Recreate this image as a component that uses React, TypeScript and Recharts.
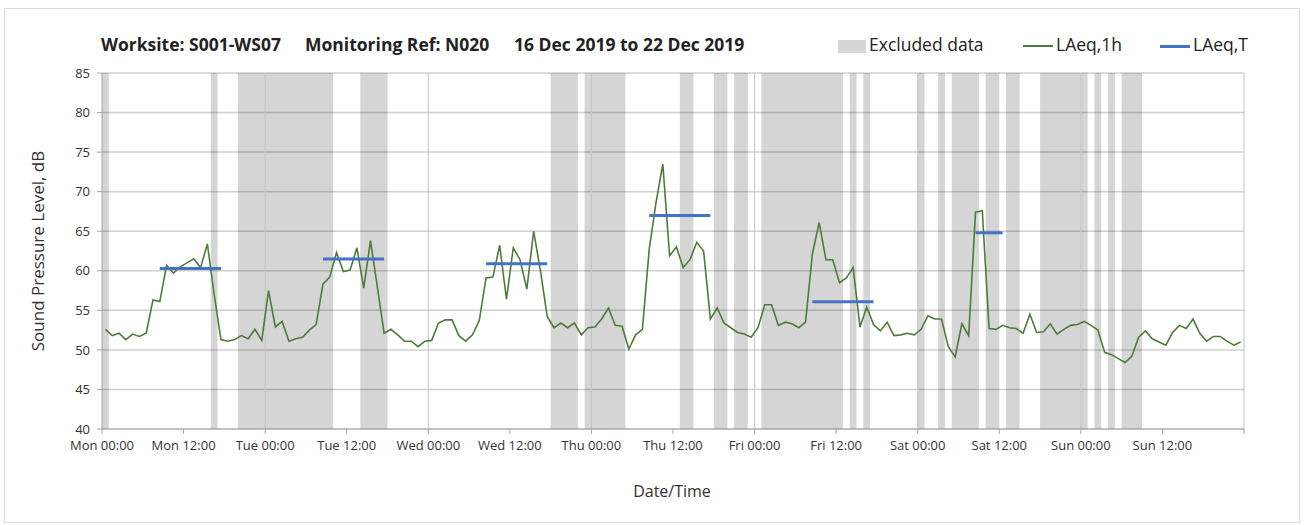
import { ComposedChart, Line, XAxis, YAxis, CartesianGrid, ReferenceArea, ReferenceLine } from 'recharts';

// hourly LAeq,1h values, Mon 00:00 .. Sun 23:00
const laeq1h = [
  52.6, 51.8, 52.1, 51.3, 52.0, 51.7, 52.1, 56.3, 56.1, 60.7, 59.7, 60.5, 61.0, 61.5, 60.4, 63.4, 57.0, 51.3, 51.1, 51.3, 51.8, 51.4, 52.6, 51.2,
  57.5, 52.9, 53.6, 51.1, 51.4, 51.6, 52.5, 53.2, 58.3, 59.2, 62.3, 59.9, 60.1, 62.9, 57.8, 63.8, 58.0, 52.1, 52.6, 51.9, 51.1, 51.1, 50.4, 51.1,
  51.2, 53.4, 53.8, 53.8, 51.8, 51.1, 51.9, 53.7, 59.1, 59.2, 63.2, 56.4, 62.9, 61.4, 57.7, 65.0, 60.0, 54.2, 52.8, 53.4, 52.8, 53.4, 51.9, 52.8,
  52.9, 53.9, 55.3, 53.1, 53.0, 50.1, 51.9, 52.6, 62.7, 68.6, 73.5, 61.9, 63.0, 60.4, 61.4, 63.6, 62.5, 53.9, 55.3, 53.4, 52.8, 52.2, 52.0, 51.6,
  52.8, 55.7, 55.7, 53.1, 53.5, 53.3, 52.8, 53.5, 62.1, 66.1, 61.4, 61.4, 58.5, 59.1, 60.4, 52.9, 55.4, 53.2, 52.4, 53.5, 51.8, 51.9, 52.1, 51.9,
  52.6, 54.3, 53.9, 53.9, 50.4, 49.1, 53.3, 51.8, 67.4, 67.6, 52.7, 52.6, 53.1, 52.8, 52.7, 52.1, 54.5, 52.2, 52.3, 53.3, 52.0, 52.6, 53.1, 53.2,
  53.6, 53.1, 52.5, 49.7, 49.4, 48.9, 48.4, 49.2, 51.6, 52.4, 51.4, 51.0, 50.6, 52.2, 53.1, 52.7, 53.9, 52.1, 51.1, 51.7, 51.7, 51.1, 50.6, 51.0,
];

// LAeq,T periods: [from hour, to hour, level]
const laeqT: [number, number, number][] = [
  [8.5, 17.5, 60.3],
  [32.5, 41.5, 61.5],
  [56.5, 65.5, 60.9],
  [80.5, 89.5, 67.0],
  [104.5, 113.5, 56.1],
  [128.5, 132.5, 64.8],
];

// excluded data periods [start hour, end hour]
const excluded: [number, number][] = [
  [0, 1], [16, 17], [20, 34], [38, 42], [66, 70], [71, 77], [85, 87], [90, 92], [93, 95],
  [97, 109], [110, 111], [112, 113], [120, 121], [123, 124], [125, 129], [130, 132], [133, 135],
  [138, 145], [146, 147], [148, 149], [150, 153],
];

const xTickLabels = [
  'Mon 00:00', 'Mon 12:00', 'Tue 00:00', 'Tue 12:00', 'Wed 00:00', 'Wed 12:00', 'Thu 00:00',
  'Thu 12:00', 'Fri 00:00', 'Fri 12:00', 'Sat 00:00', 'Sat 12:00', 'Sun 00:00', 'Sun 12:00', '',
];
const xTicks = xTickLabels.map((_, i) => i * 12);
const dayLines = [24, 48, 72, 96, 120, 144, 168];
const yTicks = [40, 45, 50, 55, 60, 65, 70, 75, 80, 85];

const data = laeq1h.map((v, i) => ({ t: i + 0.5, v }));

const FONT = '"Open Sans", sans-serif';
const GREEN = '#4F7B3A';
const BLUE = '#4472C4';

export default function App() {
  return (
    <div style={{ position: 'absolute', left: 0, top: 0, width: 1306, height: 525, background: '#fff', fontFamily: FONT, color: '#222' }}>
      <div style={{ position: 'absolute', left: 4, top: 8, width: 1294, height: 513, border: '1px solid #d9d9d9' }} />

      {/* title */}
      <div style={{ position: 'absolute', top: 32, left: 101, fontSize: 17.5, fontWeight: 700, whiteSpace: 'nowrap' }}>Worksite: S001-WS07</div>
      <div style={{ position: 'absolute', top: 32, left: 305, fontSize: 17.5, fontWeight: 700, whiteSpace: 'nowrap' }}>Monitoring Ref: N020</div>
      <div style={{ position: 'absolute', top: 32, left: 514, fontSize: 17.5, fontWeight: 700, whiteSpace: 'nowrap' }}>16 Dec 2019 to 22 Dec 2019</div>

      {/* legend */}
      <div style={{ position: 'absolute', left: 838, top: 40, width: 28, height: 13, background: '#d6d6d6' }} />
      <div style={{ position: 'absolute', left: 869, top: 32, fontSize: 17.5, whiteSpace: 'nowrap' }}>Excluded data</div>
      <div style={{ position: 'absolute', left: 1023, top: 45, width: 30, height: 2, background: GREEN }} />
      <div style={{ position: 'absolute', left: 1056, top: 32, fontSize: 17.5, whiteSpace: 'nowrap' }}>LAeq,1h</div>
      <div style={{ position: 'absolute', left: 1160, top: 44.5, width: 30, height: 3, background: BLUE }} />
      <div style={{ position: 'absolute', left: 1193, top: 32, fontSize: 17.5, whiteSpace: 'nowrap' }}>LAeq,T</div>

      {/* axis titles */}
      <div style={{ position: 'absolute', left: 37, top: 251, fontSize: 17, whiteSpace: 'nowrap', color: '#333', transform: 'translate(-50%, -50%) rotate(-90deg)' }}>
        Sound Pressure Level, dB
      </div>
      <div style={{ position: 'absolute', left: 672, top: 491, fontSize: 16, whiteSpace: 'nowrap', color: '#333', transform: 'translate(-50%, -50%)' }}>
        Date/Time
      </div>

      <div style={{ position: 'absolute', left: 0, top: 0 }}>
        <ComposedChart width={1306} height={525} data={data} margin={{ top: 73, right: 62, bottom: 66, left: 0 }}>
          <CartesianGrid vertical={false} stroke="#d0d0d0" strokeWidth={1.5} />
          {excluded.map(([a, b], i) => (
            <ReferenceArea key={`ex-${i}`} x1={a} x2={b} y1={40} y2={85} fill="#000" fillOpacity={0.165} stroke="none" ifOverflow="hidden" />
          ))}
          {dayLines.map((d) => (
            <ReferenceLine key={`d-${d}`} x={d} stroke="#c4c4c4" strokeWidth={1} />
          ))}
          <XAxis
            dataKey="t"
            type="number"
            domain={[0, 168]}
            ticks={xTicks}
            interval={0}
            tickFormatter={(v: number) => xTickLabels[v / 12]}
            stroke="#a6a6a6"
            tickSize={5}
            tickMargin={7}
            height={30}
            tick={{ fill: '#333', fontSize: 13, fontFamily: FONT }}
          />
          <YAxis
            type="number"
            domain={[40, 85]}
            ticks={yTicks}
            interval={0}
            stroke="#a6a6a6"
            tickSize={5}
            tickMargin={7}
            width={102}
            tick={{ fill: '#333', fontSize: 13, fontFamily: FONT }}
          />
          <Line dataKey="v" stroke={GREEN} strokeWidth={1.6} dot={false} activeDot={false} isAnimationActive={false} />
          {laeqT.map(([a, b, v], i) => (
            <Line
              key={`t-${i}`}
              data={[{ t: a, v }, { t: b, v }]}
              dataKey="v"
              stroke={BLUE}
              strokeWidth={3}
              dot={false}
              activeDot={false}
              isAnimationActive={false}
            />
          ))}
        </ComposedChart>
      </div>
    </div>
  );
}
